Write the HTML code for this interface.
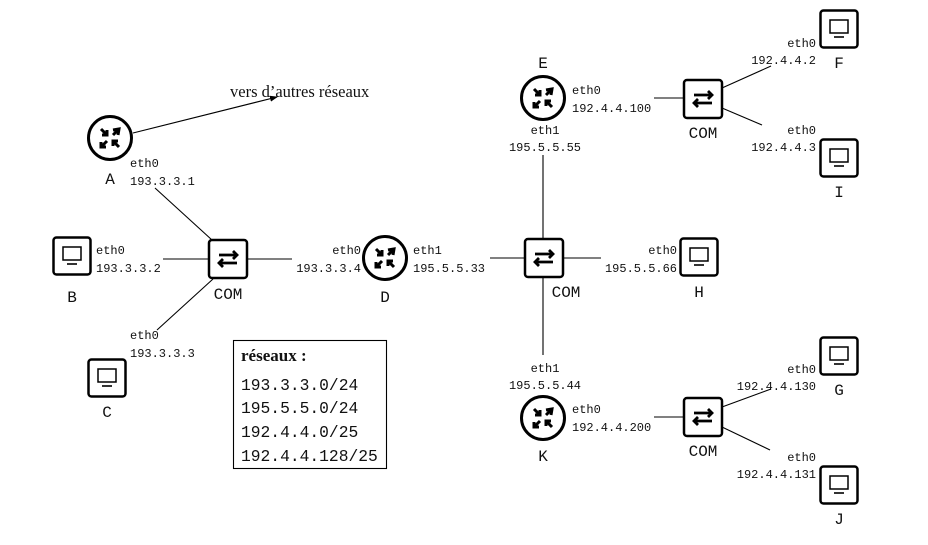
<!DOCTYPE html>
<html><head><meta charset="utf-8"><style>
html,body{margin:0;padding:0;background:#fff}
svg{display:block}
.m{font-family:"Liberation Mono",monospace;font-size:12px;fill:#111}
.l{font-family:"Liberation Serif",serif;font-size:16.5px;fill:#111}
.b{font-family:"Liberation Mono",monospace;font-size:16px;fill:#111}
</style></head><body>
<svg width="928" height="545" viewBox="0 0 928 545" xmlns="http://www.w3.org/2000/svg">
<defs>
<g id="router">
<circle r="21.5" fill="#fff" stroke="#000" stroke-width="3"/>
<g stroke="#000" stroke-width="3" fill="none">
<path d="M-9,-9 L-3,-3 M-3,-8 L-3,-3 L-8,-3"/>
<path d="M9,-9 L3,-3 M3,-8 L9,-9 L8,-3" />
<path d="M-9,9 L-3,3 M-9,4 L-9,9 L-4,9" />
<path d="M9,9 L3,3 M3,8 L3,3 L8,3"/>
</g>
</g>
<g id="switch">
<rect x="-19" y="-19" width="38" height="38" rx="3" fill="#fff" stroke="#000" stroke-width="2.5"/>
<g stroke="#000" stroke-width="2.8" fill="none">
<path d="M-9,-4 L9,-4 M5,-8 L9,-4 L5,0"/>
<path d="M-9,4 L9,4 M-5,0 L-9,4 L-5,8"/>
</g>
</g>
<g id="host">
<rect x="-18.5" y="-18.5" width="37" height="37" rx="3" fill="#fff" stroke="#000" stroke-width="2.5"/>
<rect x="-9" y="-9" width="18" height="13" fill="none" stroke="#000" stroke-width="1.5"/>
<line x1="-5" y1="8" x2="5" y2="8" stroke="#000" stroke-width="1.6"/>
</g>
<marker id="ar" markerWidth="8" markerHeight="6" refX="7" refY="3" orient="auto" markerUnits="userSpaceOnUse">
<path d="M0,0 L8,3 L0,6 Z" fill="#000"/>
</marker>
</defs>
<g stroke="#000" stroke-width="1.1">
<line x1="133" y1="133" x2="277" y2="97" marker-end="url(#ar)"/>
<line x1="155" y1="188" x2="212" y2="240"/>
<line x1="163" y1="259" x2="209" y2="259"/>
<line x1="213" y1="279" x2="157" y2="330"/>
<line x1="247" y1="259" x2="292" y2="259"/>
<line x1="490" y1="258" x2="525" y2="258"/>
<line x1="543" y1="155" x2="543" y2="239"/>
<line x1="543" y1="278" x2="543" y2="355"/>
<line x1="564" y1="258" x2="601" y2="258"/>
<line x1="654" y1="98" x2="684" y2="98"/>
<line x1="722" y1="88" x2="771" y2="66"/>
<line x1="722" y1="108" x2="762" y2="125"/>
<line x1="654" y1="417" x2="684" y2="417"/>
<line x1="722" y1="407" x2="771" y2="389"/>
<line x1="722" y1="427" x2="770" y2="450"/>
</g>
<use href="#router" x="110" y="138"/>
<use href="#router" x="385" y="258"/>
<use href="#router" x="543" y="98"/>
<use href="#router" x="543" y="418"/>
<use href="#switch" x="228" y="259"/>
<use href="#switch" x="544" y="258"/>
<use href="#switch" x="703" y="99"/>
<use href="#switch" x="703" y="417"/>
<use href="#host" x="72" y="256"/>
<use href="#host" x="107" y="378"/>
<use href="#host" x="699" y="257"/>
<use href="#host" x="839" y="29"/>
<use href="#host" x="839" y="158"/>
<use href="#host" x="839" y="356"/>
<use href="#host" x="839" y="485"/>
<text class="l" x="230" y="97">vers d’autres réseaux</text>
<g class="b" text-anchor="middle">
<text x="110" y="184">A</text><text x="72" y="302">B</text><text x="107" y="417">C</text>
<text x="385" y="302">D</text><text x="543" y="68">E</text><text x="839" y="68">F</text>
<text x="839" y="395">G</text><text x="699" y="297">H</text><text x="839" y="197">I</text>
<text x="839" y="524">J</text><text x="543" y="461">K</text>
<text x="228" y="299">COM</text><text x="566" y="297">COM</text>
<text x="703" y="138">COM</text><text x="703" y="456">COM</text>
</g>
<g class="m">
<text x="130" y="167">eth0</text><text x="130" y="185">193.3.3.1</text>
<text x="96" y="254">eth0</text><text x="96" y="272">193.3.3.2</text>
<text x="130" y="339">eth0</text><text x="130" y="357">193.3.3.3</text>
<g text-anchor="end">
<text x="361" y="254">eth0</text><text x="361" y="272">193.3.3.4</text>
<text x="677" y="254">eth0</text><text x="677" y="272">195.5.5.66</text>
<text x="816" y="47">eth0</text><text x="816" y="64">192.4.4.2</text>
<text x="816" y="134">eth0</text><text x="816" y="151">192.4.4.3</text>
<text x="816" y="373">eth0</text><text x="816" y="390">192.4.4.130</text>
<text x="816" y="461">eth0</text><text x="816" y="478">192.4.4.131</text>
</g>
<text x="413" y="254">eth1</text><text x="413" y="272">195.5.5.33</text>
<text x="572" y="94">eth0</text><text x="572" y="112">192.4.4.100</text>
<text x="572" y="413">eth0</text><text x="572" y="431">192.4.4.200</text>
<g text-anchor="middle">
<text x="545" y="134">eth1</text><text x="545" y="151">195.5.5.55</text>
<text x="545" y="372">eth1</text><text x="545" y="389">195.5.5.44</text>
</g>
</g>
<rect x="233.5" y="340.5" width="153" height="128" fill="none" stroke="#000" stroke-width="1.1"/>
<text x="241" y="361" font-family="Liberation Serif,serif" font-size="17" font-weight="bold" fill="#111">réseaux :</text>
<g font-family="Liberation Mono,monospace" font-size="16.3" fill="#111">
<text x="241" y="390">193.3.3.0/24</text>
<text x="241" y="413">195.5.5.0/24</text>
<text x="241" y="437">192.4.4.0/25</text>
<text x="241" y="461">192.4.4.128/25</text>
</g>
</svg>
</body></html>
